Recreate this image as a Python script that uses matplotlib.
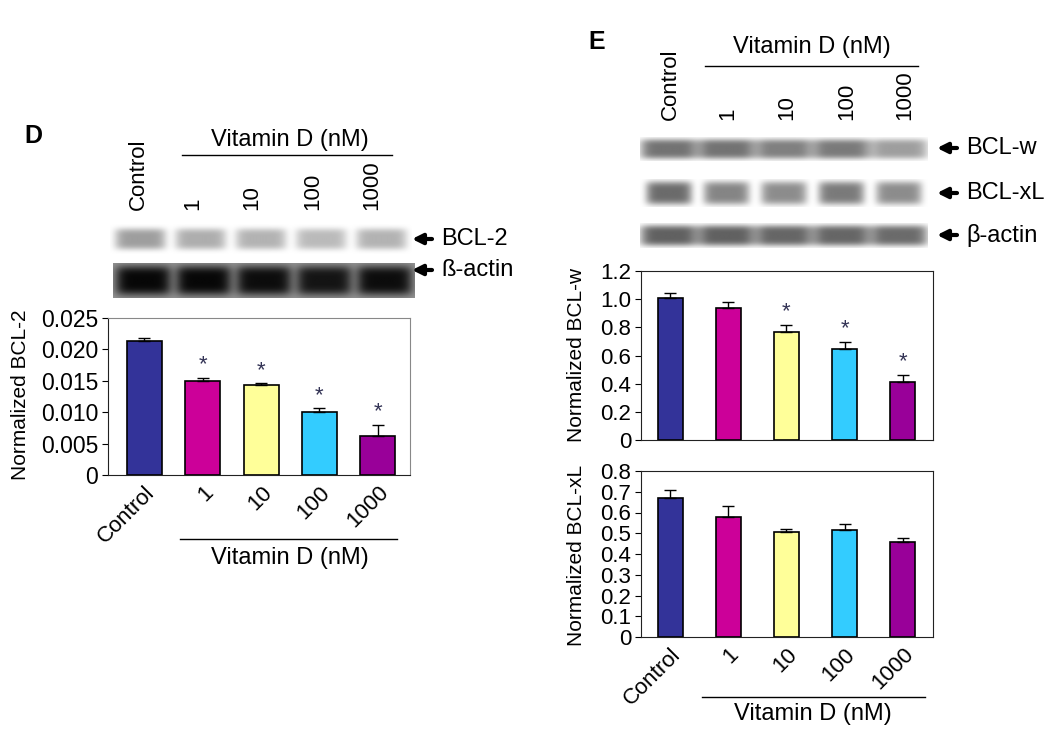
import numpy as np
import matplotlib.pyplot as plt
from matplotlib.patches import FancyArrowPatch
from matplotlib.lines import Line2D

plt.rcParams['font.family'] = ['Liberation Sans', 'DejaVu Sans']

# data
doses = ['Control', '1', '10', '100', '1000']
bar_colors = ['#333399', '#CC0099', '#FFFF99', '#33CCFF', '#990099']

bcl2 = [0.0213, 0.0150, 0.0143, 0.0101, 0.0062]
bcl2_err = [0.0005, 0.0005, 0.0003, 0.0005, 0.0018]
bcl2_sig = [False, True, True, True, True]
bcl2_ticks = [0, 0.005, 0.010, 0.015, 0.020, 0.025]
bcl2_ticklabels = ['0', '0.005', '0.010', '0.015', '0.020', '0.025']

bclw = [1.01, 0.94, 0.77, 0.645, 0.415]
bclw_err = [0.035, 0.04, 0.05, 0.05, 0.045]
bclw_sig = [False, False, True, True, True]
bclw_ticks = [0, 0.2, 0.4, 0.6, 0.8, 1.0, 1.2]
bclw_ticklabels = ['0', '0.2', '0.4', '0.6', '0.8', '1.0', '1.2']

bclxl = [0.67, 0.58, 0.505, 0.515, 0.46]
bclxl_err = [0.04, 0.05, 0.015, 0.03, 0.015]
bclxl_sig = [False, False, False, False, False]
bclxl_ticks = [0, 0.1, 0.2, 0.3, 0.4, 0.5, 0.6, 0.7, 0.8]
bclxl_ticklabels = ['0', '0.1', '0.2', '0.3', '0.4', '0.5', '0.6', '0.7', '0.8']

# blot band darkness per lane (0 = white, 1 = black)
d_bcl2_band = [0.38, 0.32, 0.30, 0.27, 0.30]
d_actin_band = [0.55, 0.55, 0.53, 0.50, 0.53]
e_bclw_band = [0.55, 0.55, 0.50, 0.52, 0.38]
e_bclxl_band = [0.58, 0.48, 0.45, 0.52, 0.45]
e_actin_band = [0.62, 0.62, 0.60, 0.60, 0.58]

W, H = 1050, 732
fig = plt.figure(figsize=(W / 100, H / 100), dpi=100)


def fx(x):
    return x / W


def fy(y):
    return 1 - y / H


def px_axes(x0, y0, x1, y1):
    return fig.add_axes([x0 / W, 1 - y1 / H, (x1 - x0) / W, (y1 - y0) / H])


def ftext(x, y, s, **kw):
    fig.text(fx(x), fy(y), s, **kw)


def hline(x0, x1, y):
    fig.add_artist(Line2D([fx(x0), fx(x1)], [fy(y), fy(y)], color='black', lw=1))


def arrow_label(x, y, s, fs=17):
    fig.add_artist(FancyArrowPatch((fx(x + 20), fy(y)), (fx(x), fy(y)),
                                   transform=fig.transFigure, arrowstyle='-|>',
                                   mutation_scale=15, lw=3, color='black',
                                   shrinkA=0, shrinkB=0))
    ftext(x + 29, y, s, fontsize=fs, va='center', ha='left')


def blot(box, levels, hw, hh, bg=0.0):
    ax = px_axes(*box)
    xs = np.linspace(-0.5, 4.5, 400)
    ys = np.linspace(-1, 1, 60)
    X, Y = np.meshgrid(xs, ys)
    dark = np.full(X.shape, bg)
    for i, lev in enumerate(levels):
        dark += lev * np.exp(-(np.abs(X - i) / hw) ** 6) * np.exp(-(np.abs(Y) / hh) ** 4)
    dark = np.clip(dark, 0, 1)
    ax.imshow(1 - dark, cmap='gray', vmin=0, vmax=1, aspect='auto',
              extent=(-0.5, 4.5, -1, 1), interpolation='bilinear')
    ax.set_axis_off()
    return ax


def bars(ax, vals, errs, sig, ticks, ticklabels, width, xlim, fs, tick_fs,
         xlabels=True, frame='#888888'):
    x = np.arange(len(vals))
    ax.bar(x, vals, width=width, color=bar_colors, edgecolor='black', linewidth=1.2, zorder=2)
    ax.errorbar(x, vals, yerr=[np.zeros(len(errs)), errs], fmt='none',
                ecolor='black', elinewidth=1, capsize=4, capthick=1, zorder=3)
    top = ticks[-1]
    for i in x:
        if sig[i]:
            ax.text(i, vals[i] + errs[i] + top * 0.015, '*', ha='center', va='bottom',
                    fontsize=16, color='#333355')
    ax.set_ylim(0, top)
    ax.set_xlim(*xlim)
    ax.set_yticks(ticks)
    ax.set_yticklabels(ticklabels, fontsize=tick_fs)
    ax.tick_params(axis='y', length=4, direction='out', pad=3)
    ax.tick_params(axis='x', length=0, pad=5)
    ax.set_xticks(x)
    if xlabels:
        ax.set_xticklabels(doses, rotation=45, ha='right', va='top',
                           rotation_mode='anchor', fontsize=fs)
    else:
        ax.set_xticklabels([])
    for s in ['left', 'bottom']:
        ax.spines[s].set_color('#222222')
    for s in ['top', 'right']:
        ax.spines[s].set_color(frame)


# ---------------- panel D ----------------
ftext(33, 136, 'D', fontsize=18, fontweight='bold', ha='center', va='center')
ftext(290, 140, 'Vitamin D (nM)', fontsize=17, ha='center', va='center')
hline(182, 392, 155)
for xpos, lab in zip([138, 193, 252, 313, 372], doses):
    ftext(xpos, 210, lab, fontsize=16, rotation=90, ha='center', va='bottom')

blot((110, 224, 412, 254), d_bcl2_band, 0.42, 0.72)
blot((113, 263, 415, 298), d_actin_band, 0.46, 0.85, bg=0.42)
arrow_label(412, 239, 'BCL-2')
arrow_label(412, 270, 'ß-actin')

axD = px_axes(108, 318, 410, 475)
bars(axD, bcl2, bcl2_err, bcl2_sig, bcl2_ticks, bcl2_ticklabels, 0.6,
     (-0.62, 4.55), 16, 16.5)
ftext(20, 395, 'Normalized BCL-2', fontsize=15, rotation=90, ha='center', va='center')
hline(180, 397, 539)
ftext(290, 558, 'Vitamin D (nM)', fontsize=17, ha='center', va='center')

# ---------------- panel E ----------------
ftext(597, 42, 'E', fontsize=18, fontweight='bold', ha='center', va='center')
ftext(812, 47, 'Vitamin D (nM)', fontsize=17, ha='center', va='center')
hline(705, 918, 66)
for xpos, lab in zip([670, 728, 787, 847, 905], doses):
    ftext(xpos, 120, lab, fontsize=16, rotation=90, ha='center', va='bottom')

blot((640, 137, 928, 161), e_bclw_band, 0.5, 0.85)
blot((640, 179, 928, 207), e_bclxl_band, 0.40, 0.85)
blot((640, 223, 928, 248), e_actin_band, 0.5, 0.85)
arrow_label(937, 148, 'BCL-w')
arrow_label(937, 193, 'BCL-xL')
arrow_label(937, 235, 'β-actin')

axE1 = px_axes(641, 271, 933, 440)
bars(axE1, bclw, bclw_err, bclw_sig, bclw_ticks, bclw_ticklabels, 0.43,
     (-0.5, 4.52), 16, 16, xlabels=False, frame='#222222')
ftext(576, 355, 'Normalized BCL-w', fontsize=15, rotation=90, ha='center', va='center')

axE2 = px_axes(641, 471, 933, 637)
bars(axE2, bclxl, bclxl_err, bclxl_sig, bclxl_ticks, bclxl_ticklabels, 0.43,
     (-0.5, 4.52), 16, 16, frame='#222222')
ftext(576, 555, 'Normalized BCL-xL', fontsize=15, rotation=90, ha='center', va='center')
hline(702, 925, 697)
ftext(813, 714, 'Vitamin D (nM)', fontsize=17, ha='center', va='center')

fig.savefig('out.png', dpi=100)
